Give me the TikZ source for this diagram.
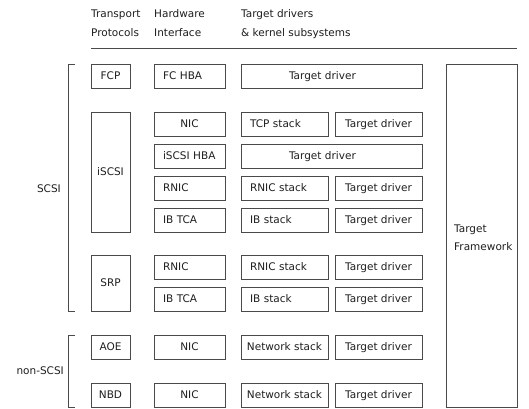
\documentclass[tikz,border=0pt]{standalone}
\usepackage{fontspec}
\setmainfont{DejaVu Sans}
\definecolor{lnc}{HTML}{4A4A4A}
\definecolor{txc}{HTML}{1E1E1E}
\newcommand{\mybox}[7]{%
  \node[box,#6,minimum width={#4-#2},minimum height={#5-#3}] (#1) at ({(#2+#4)/2},{(#3+#5)/2}) {#7};}
\begin{document}
\begin{tikzpicture}[x=1pt,y=-1pt,
  every node/.style={text=txc,font=\fontsize{10.5}{12}\selectfont},
  box/.style={draw=lnc,line width=0.8pt,inner sep=0pt,text height=7.6pt,text depth=0pt},
  ctr/.style={},
  hwl/.style={inner xsep=9pt,text width=53pt,align=left},
  stl/.style={inner xsep=9pt,text width=69pt,align=left},
  wide/.style={inner xsep=48pt,text width=85pt,align=left},
  lbl/.style={anchor=base west,inner sep=0pt},
  brk/.style={draw=lnc,line width=0.8pt}]
\useasboundingbox (0,0) rectangle (529,408);
% header
\node[lbl] (h1a) at (91,17) {Transport};
\node[lbl] (h1b) at (91,36) {Protocols};
\node[lbl] (h2a) at (154,17) {Hardware};
\node[lbl] (h2b) at (154,36) {Interface};
\node[lbl] (h3a) at (241,17) {Target drivers};
\node[lbl] (h3b) at (241,36) {\& kernel subsystems};
\coordinate (hl1) at (91,48);
\coordinate (hl2) at (517,48);
\draw[brk] (hl1) -- (hl2);
% FCP row
\mybox{fcp}{91}{64}{130}{88}{ctr}{FCP}
\mybox{fchba}{154}{64}{225}{88}{hwl}{FC HBA}
\mybox{fctd}{241}{64}{422}{88}{wide}{Target driver}
% iSCSI
\mybox{iscsi}{91}{112}{130}{232}{ctr}{iSCSI}
\mybox{nic1}{154}{112}{225}{136}{ctr}{NIC}
\mybox{tcp}{241}{112}{328}{136}{stl}{TCP stack}
\mybox{td1}{335}{112}{422}{136}{ctr}{Target driver}
\mybox{ihba}{154}{144}{225}{168}{hwl}{iSCSI HBA}
\mybox{td2}{241}{144}{422}{168}{wide}{Target driver}
\mybox{rnic1}{154}{176}{225}{200}{hwl}{RNIC}
\mybox{rst1}{241}{176}{328}{200}{stl}{RNIC stack}
\mybox{td3}{335}{176}{422}{200}{ctr}{Target driver}
\mybox{ibt1}{154}{208}{225}{232}{hwl}{IB TCA}
\mybox{ibs1}{241}{208}{328}{232}{stl}{IB stack}
\mybox{td4}{335}{208}{422}{232}{ctr}{Target driver}
% SRP
\mybox{srp}{91}{255}{130}{311}{ctr}{SRP}
\mybox{rnic2}{154}{255}{225}{279}{hwl}{RNIC}
\mybox{rst2}{241}{255}{328}{279}{stl}{RNIC stack}
\mybox{td5}{335}{255}{422}{279}{ctr}{Target driver}
\mybox{ibt2}{154}{287}{225}{311}{hwl}{IB TCA}
\mybox{ibs2}{241}{287}{328}{311}{stl}{IB stack}
\mybox{td6}{335}{287}{422}{311}{ctr}{Target driver}
% AOE
\mybox{aoe}{91}{335}{130}{359}{ctr}{AOE}
\mybox{nic2}{154}{335}{225}{359}{ctr}{NIC}
\mybox{net1}{241}{335}{328}{359}{ctr}{Network stack}
\mybox{td7}{335}{335}{422}{359}{ctr}{Target driver}
% NBD
\mybox{nbd}{91}{383}{130}{407}{ctr}{NBD}
\mybox{nic3}{154}{383}{225}{407}{ctr}{NIC}
\mybox{net2}{241}{383}{328}{407}{ctr}{Network stack}
\mybox{td8}{335}{383}{422}{407}{ctr}{Target driver}
% framework
\mybox{fw}{446}{64}{517}{407}{ctr}{}
\node[lbl] (fwa) at (454,232) {Target};
\node[lbl] (fwb) at (454,250.5) {Framework};
% brackets
\draw[brk] (75,64) -- (68,64) -- (68,311) -- (75,311);
\draw[brk] (75,335) -- (68,335) -- (68,407) -- (75,407);
\node[anchor=base east,inner sep=0pt] (scsi) at (61,192) {SCSI};
\node[anchor=base east,inner sep=0pt] (nscsi) at (64,374) {non-SCSI};
\end{tikzpicture}
\end{document}
